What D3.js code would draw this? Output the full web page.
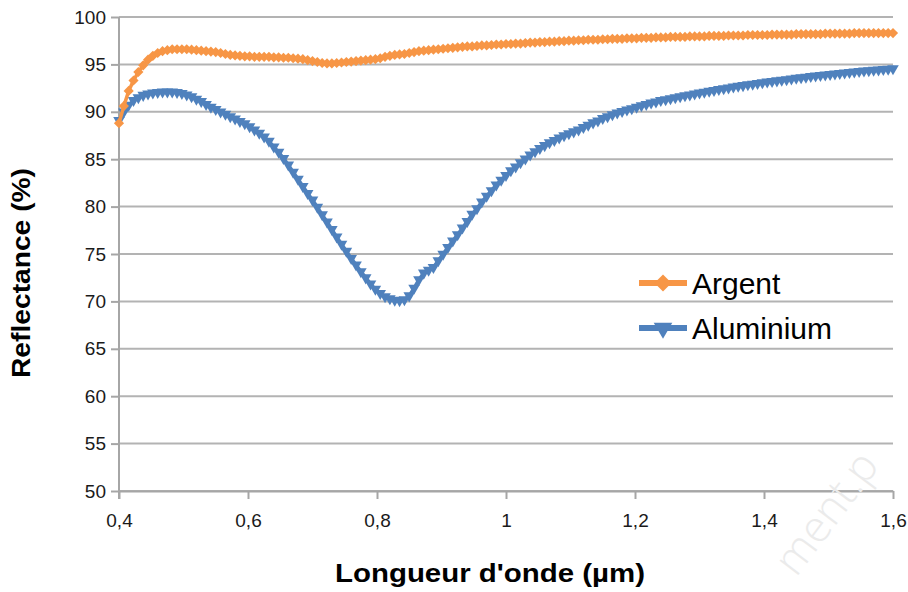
<!DOCTYPE html>
<html>
<head>
<meta charset="utf-8">
<script src="https://cdn.jsdelivr.net/npm/d3@7.9.0/dist/d3.min.js"></script>
<style>
body { margin: 0; background: #fff; }
svg { display: block; font-family: "Liberation Sans", Arial, sans-serif; }
</style>
</head>
<body>
<svg id="chart" width="908" height="592"></svg>
<script>
// wavelength in µm
const wavelength = [
  0.4, 0.4075, 0.415, 0.4225, 0.43, 0.4375, 0.445, 0.4525,
  0.46, 0.4675, 0.475, 0.4825, 0.49, 0.4975, 0.505, 0.5125,
  0.52, 0.5275, 0.535, 0.5425, 0.55, 0.5575, 0.565, 0.5725,
  0.58, 0.5875, 0.595, 0.6025, 0.61, 0.6175, 0.625, 0.6325,
  0.64, 0.6475, 0.655, 0.6625, 0.67, 0.6775, 0.685, 0.6925,
  0.7, 0.7075, 0.715, 0.7225, 0.73, 0.7375, 0.745, 0.7525,
  0.76, 0.7675, 0.775, 0.7825, 0.79, 0.7975, 0.805, 0.8125,
  0.82, 0.8275, 0.835, 0.8425, 0.85, 0.8575, 0.865, 0.8725,
  0.88, 0.8875, 0.895, 0.9025, 0.91, 0.9175, 0.925, 0.9325,
  0.94, 0.9475, 0.955, 0.9625, 0.97, 0.9775, 0.985, 0.9925,
  1, 1.0075, 1.015, 1.0225, 1.03, 1.0375, 1.045, 1.0525,
  1.06, 1.0675, 1.075, 1.0825, 1.09, 1.0975, 1.105, 1.1125,
  1.12, 1.1275, 1.135, 1.1425, 1.15, 1.1575, 1.165, 1.1725,
  1.18, 1.1875, 1.195, 1.2025, 1.21, 1.2175, 1.225, 1.2325,
  1.24, 1.2475, 1.255, 1.2625, 1.27, 1.2775, 1.285, 1.2925,
  1.3, 1.3075, 1.315, 1.3225, 1.33, 1.3375, 1.345, 1.3525,
  1.36, 1.3675, 1.375, 1.3825, 1.39, 1.3975, 1.405, 1.4125,
  1.42, 1.4275, 1.435, 1.4425, 1.45, 1.4575, 1.465, 1.4725,
  1.48, 1.4875, 1.495, 1.5025, 1.51, 1.5175, 1.525, 1.5325,
  1.54, 1.5475, 1.555, 1.5625, 1.57, 1.5775, 1.585, 1.5925,
  1.6
];

// reflectance (%) of silver
const argent = [
  88.8, 90.6, 92.2, 93.3, 94.2, 94.9, 95.5, 95.9,
  96.2, 96.4, 96.5, 96.6, 96.6, 96.6, 96.6, 96.55,
  96.5, 96.45, 96.4, 96.35, 96.3, 96.2, 96.1, 96.0,
  95.95, 95.9, 95.85, 95.85, 95.8, 95.8, 95.8, 95.8,
  95.75, 95.75, 95.7, 95.7, 95.65, 95.6, 95.55, 95.45,
  95.35, 95.25, 95.15, 95.1, 95.1, 95.15, 95.2, 95.25,
  95.3, 95.35, 95.4, 95.45, 95.5, 95.55, 95.65, 95.8,
  95.9, 96.0, 96.05, 96.1, 96.2, 96.3, 96.4, 96.45,
  96.5, 96.55, 96.6, 96.65, 96.7, 96.75, 96.8, 96.85,
  96.9, 96.9, 96.95, 97.0, 97.0, 97.05, 97.1, 97.1,
  97.15, 97.15, 97.2, 97.2, 97.25, 97.3, 97.3, 97.35,
  97.35, 97.4, 97.4, 97.45, 97.45, 97.5, 97.5, 97.55,
  97.55, 97.6, 97.6, 97.6, 97.65, 97.65, 97.7, 97.7,
  97.7, 97.75, 97.75, 97.75, 97.8, 97.8, 97.8, 97.85,
  97.85, 97.85, 97.9, 97.9, 97.9, 97.9, 97.95, 97.95,
  97.95, 97.95, 98.0, 98.0, 98.0, 98.0, 98.05, 98.05,
  98.05, 98.05, 98.1, 98.1, 98.1, 98.1, 98.1, 98.15,
  98.15, 98.15, 98.15, 98.15, 98.2, 98.2, 98.2, 98.2,
  98.2, 98.2, 98.25, 98.25, 98.25, 98.25, 98.25, 98.25,
  98.3, 98.3, 98.3, 98.3, 98.3, 98.3, 98.3, 98.3,
  98.3
];

// reflectance (%) of aluminium
const aluminium = [
  89.1, 90.0, 90.7, 91.2, 91.5, 91.75, 91.9, 92.0,
  92.05, 92.1, 92.1, 92.1, 92.05, 91.95, 91.8, 91.6,
  91.35, 91.1, 90.8, 90.5, 90.25, 90.0, 89.75, 89.5,
  89.25, 89.0, 88.75, 88.45, 88.1, 87.75, 87.35, 86.9,
  86.3, 85.75, 85.1, 84.4, 83.65, 82.9, 82.15, 81.4,
  80.7, 79.95, 79.15, 78.4, 77.6, 76.8, 76.05, 75.3,
  74.55, 73.85, 73.15, 72.5, 71.85, 71.3, 70.85, 70.5,
  70.3, 70.15, 70.1, 70.2, 70.6, 71.4, 72.3, 73.0,
  73.3, 73.6, 74.3, 75.0, 75.7, 76.4, 77.05, 77.75,
  78.45, 79.2, 79.8, 80.5, 81.1, 81.7, 82.3, 82.8,
  83.3, 83.8, 84.2, 84.65, 85.05, 85.45, 85.8, 86.15,
  86.45, 86.75, 87.0, 87.25, 87.5, 87.7, 87.9, 88.1,
  88.35, 88.6, 88.85, 89.05, 89.3, 89.5, 89.7, 89.9,
  90.05, 90.2, 90.35, 90.5, 90.65, 90.8, 90.95, 91.05,
  91.2, 91.3, 91.4, 91.5, 91.6, 91.7, 91.8, 91.9,
  92.0, 92.09, 92.18, 92.27, 92.36, 92.45, 92.54, 92.63,
  92.71, 92.78, 92.86, 92.93, 93.0, 93.08, 93.15, 93.22,
  93.28, 93.35, 93.41, 93.48, 93.55, 93.61, 93.67, 93.73,
  93.79, 93.84, 93.9, 93.96, 94.01, 94.06, 94.12, 94.17,
  94.22, 94.27, 94.31, 94.35, 94.39, 94.43, 94.47, 94.51,
  94.55
];

const yTicks = [50, 55, 60, 65, 70, 75, 80, 85, 90, 95, 100];
const xTicks = [0.4, 0.6, 0.8, 1, 1.2, 1.4, 1.6];

const width = 908;
const height = 592;
const margin = {top: 17, right: 15, bottom: 101, left: 119};

const svg = d3.select("#chart");

const x = d3.scaleLinear()
    .domain([0.4, 1.6])
    .range([margin.left, width - margin.right]);

const y = d3.scaleLinear()
    .domain([50, 100])
    .range([height - margin.bottom, margin.top]);

const gridColor = "#b3b3b3";
const axisColor = "#a6a6a6";

// horizontal grid
svg.append("g")
    .selectAll("line")
    .data(yTicks)
    .enter()
    .append("line")
    .attr("x1", x.range()[0])
    .attr("x2", x.range()[1])
    .attr("y1", d => y(d))
    .attr("y2", d => y(d))
    .attr("stroke", gridColor)
    .attr("stroke-width", 2);

const commaFmt = d => String(+d.toFixed(1)).replace(".", ",");

const yAxis = svg.append("g")
    .attr("transform", `translate(${margin.left},0)`)
    .call(d3.axisLeft(y).tickValues(yTicks).tickSize(8).tickPadding(5).tickSizeOuter(0));

const xAxis = svg.append("g")
    .attr("transform", `translate(0,${height - margin.bottom})`)
    .call(d3.axisBottom(x).tickValues(xTicks).tickFormat(commaFmt).tickSize(8).tickPadding(15).tickSizeOuter(0));

[yAxis, xAxis].forEach(g => {
    g.select(".domain").attr("stroke", axisColor).attr("stroke-width", 2);
    g.selectAll(".tick line").attr("stroke", axisColor).attr("stroke-width", 2);
    g.selectAll(".tick text")
        .attr("fill", "#1a1a1a")
        .style("font-size", "19px")
        .style("font-family", '"Liberation Sans", Arial, sans-serif');
});
// left axis line runs down through the bottom tick
yAxis.select(".domain").attr("d", `M0,${y(100)}V${y(50) + 8}`);

const series = [
    {name: "Aluminium", color: "#4f81bd", values: aluminium, shape: "triangle"},
    {name: "Argent", color: "#f79646", values: argent, shape: "diamond"}
];

const symbolFor = (shape, size) => shape === "diamond"
    ? d3.symbol(d3.symbolDiamond2, size)()
    : d3.symbol(d3.symbolTriangle, size)();

const line = d3.line()
    .x((d, i) => x(wavelength[i]))
    .y(d => y(d));

series.forEach(s => {
    const g = svg.append("g");
    g.append("path")
        .attr("d", line(s.values))
        .attr("fill", "none")
        .attr("stroke", s.color)
        .attr("stroke-width", 3.5)
        .attr("stroke-linejoin", "round");
    g.selectAll("path.mark")
        .data(s.values)
        .enter()
        .append("path")
        .attr("class", "mark")
        .attr("d", symbolFor(s.shape, s.shape === "diamond" ? 66 : 58))
        .attr("transform", (d, i) => `translate(${x(wavelength[i])},${y(d)})` + (s.shape === "triangle" ? " rotate(180)" : ""))
        .attr("fill", s.color);
});

// legend
const legendItems = [series[1], series[0]];
const legend = svg.selectAll(".legend")
    .data(legendItems)
    .enter()
    .append("g")
    .attr("class", "legend")
    .attr("transform", (d, i) => `translate(639,${283 + i * 45})`);

legend.append("line")
    .attr("x1", 0)
    .attr("x2", 48)
    .attr("stroke", d => d.color)
    .attr("stroke-width", 6);

legend.append("path")
    .attr("d", d => symbolFor(d.shape, d.shape === "diamond" ? 185 : 150))
    .attr("transform", d => "translate(24,0)" + (d.shape === "triangle" ? " rotate(180)" : ""))
    .attr("fill", d => d.color);

legend.append("text")
    .attr("x", 53)
    .attr("y", 11)
    .style("font-size", "30px")
    .attr("fill", "#000")
    .text(d => d.name);

// axis titles
svg.append("text")
    .attr("x", 490)
    .attr("y", 582)
    .attr("text-anchor", "middle")
    .attr("textLength", 310)
    .attr("lengthAdjust", "spacingAndGlyphs")
    .style("font-size", "25px")
    .style("font-weight", "bold")
    .attr("fill", "#000")
    .text("Longueur d'onde (µm)");

svg.append("text")
    .attr("transform", "translate(30,273) rotate(-90)")
    .attr("text-anchor", "middle")
    .attr("textLength", 210)
    .attr("lengthAdjust", "spacingAndGlyphs")
    .style("font-size", "25px")
    .style("font-weight", "bold")
    .attr("fill", "#000")
    .text("Reflectance (%)");

// faint watermark
svg.append("text")
    .attr("transform", "translate(796,578) rotate(-53)")
    .style("font-family", '"Open Sans", sans-serif')
    .style("font-weight", 300)
    .style("font-size", "44px")
    .attr("fill", "#ebebeb")
    .text("ment.p");
</script>
</body>
</html>
